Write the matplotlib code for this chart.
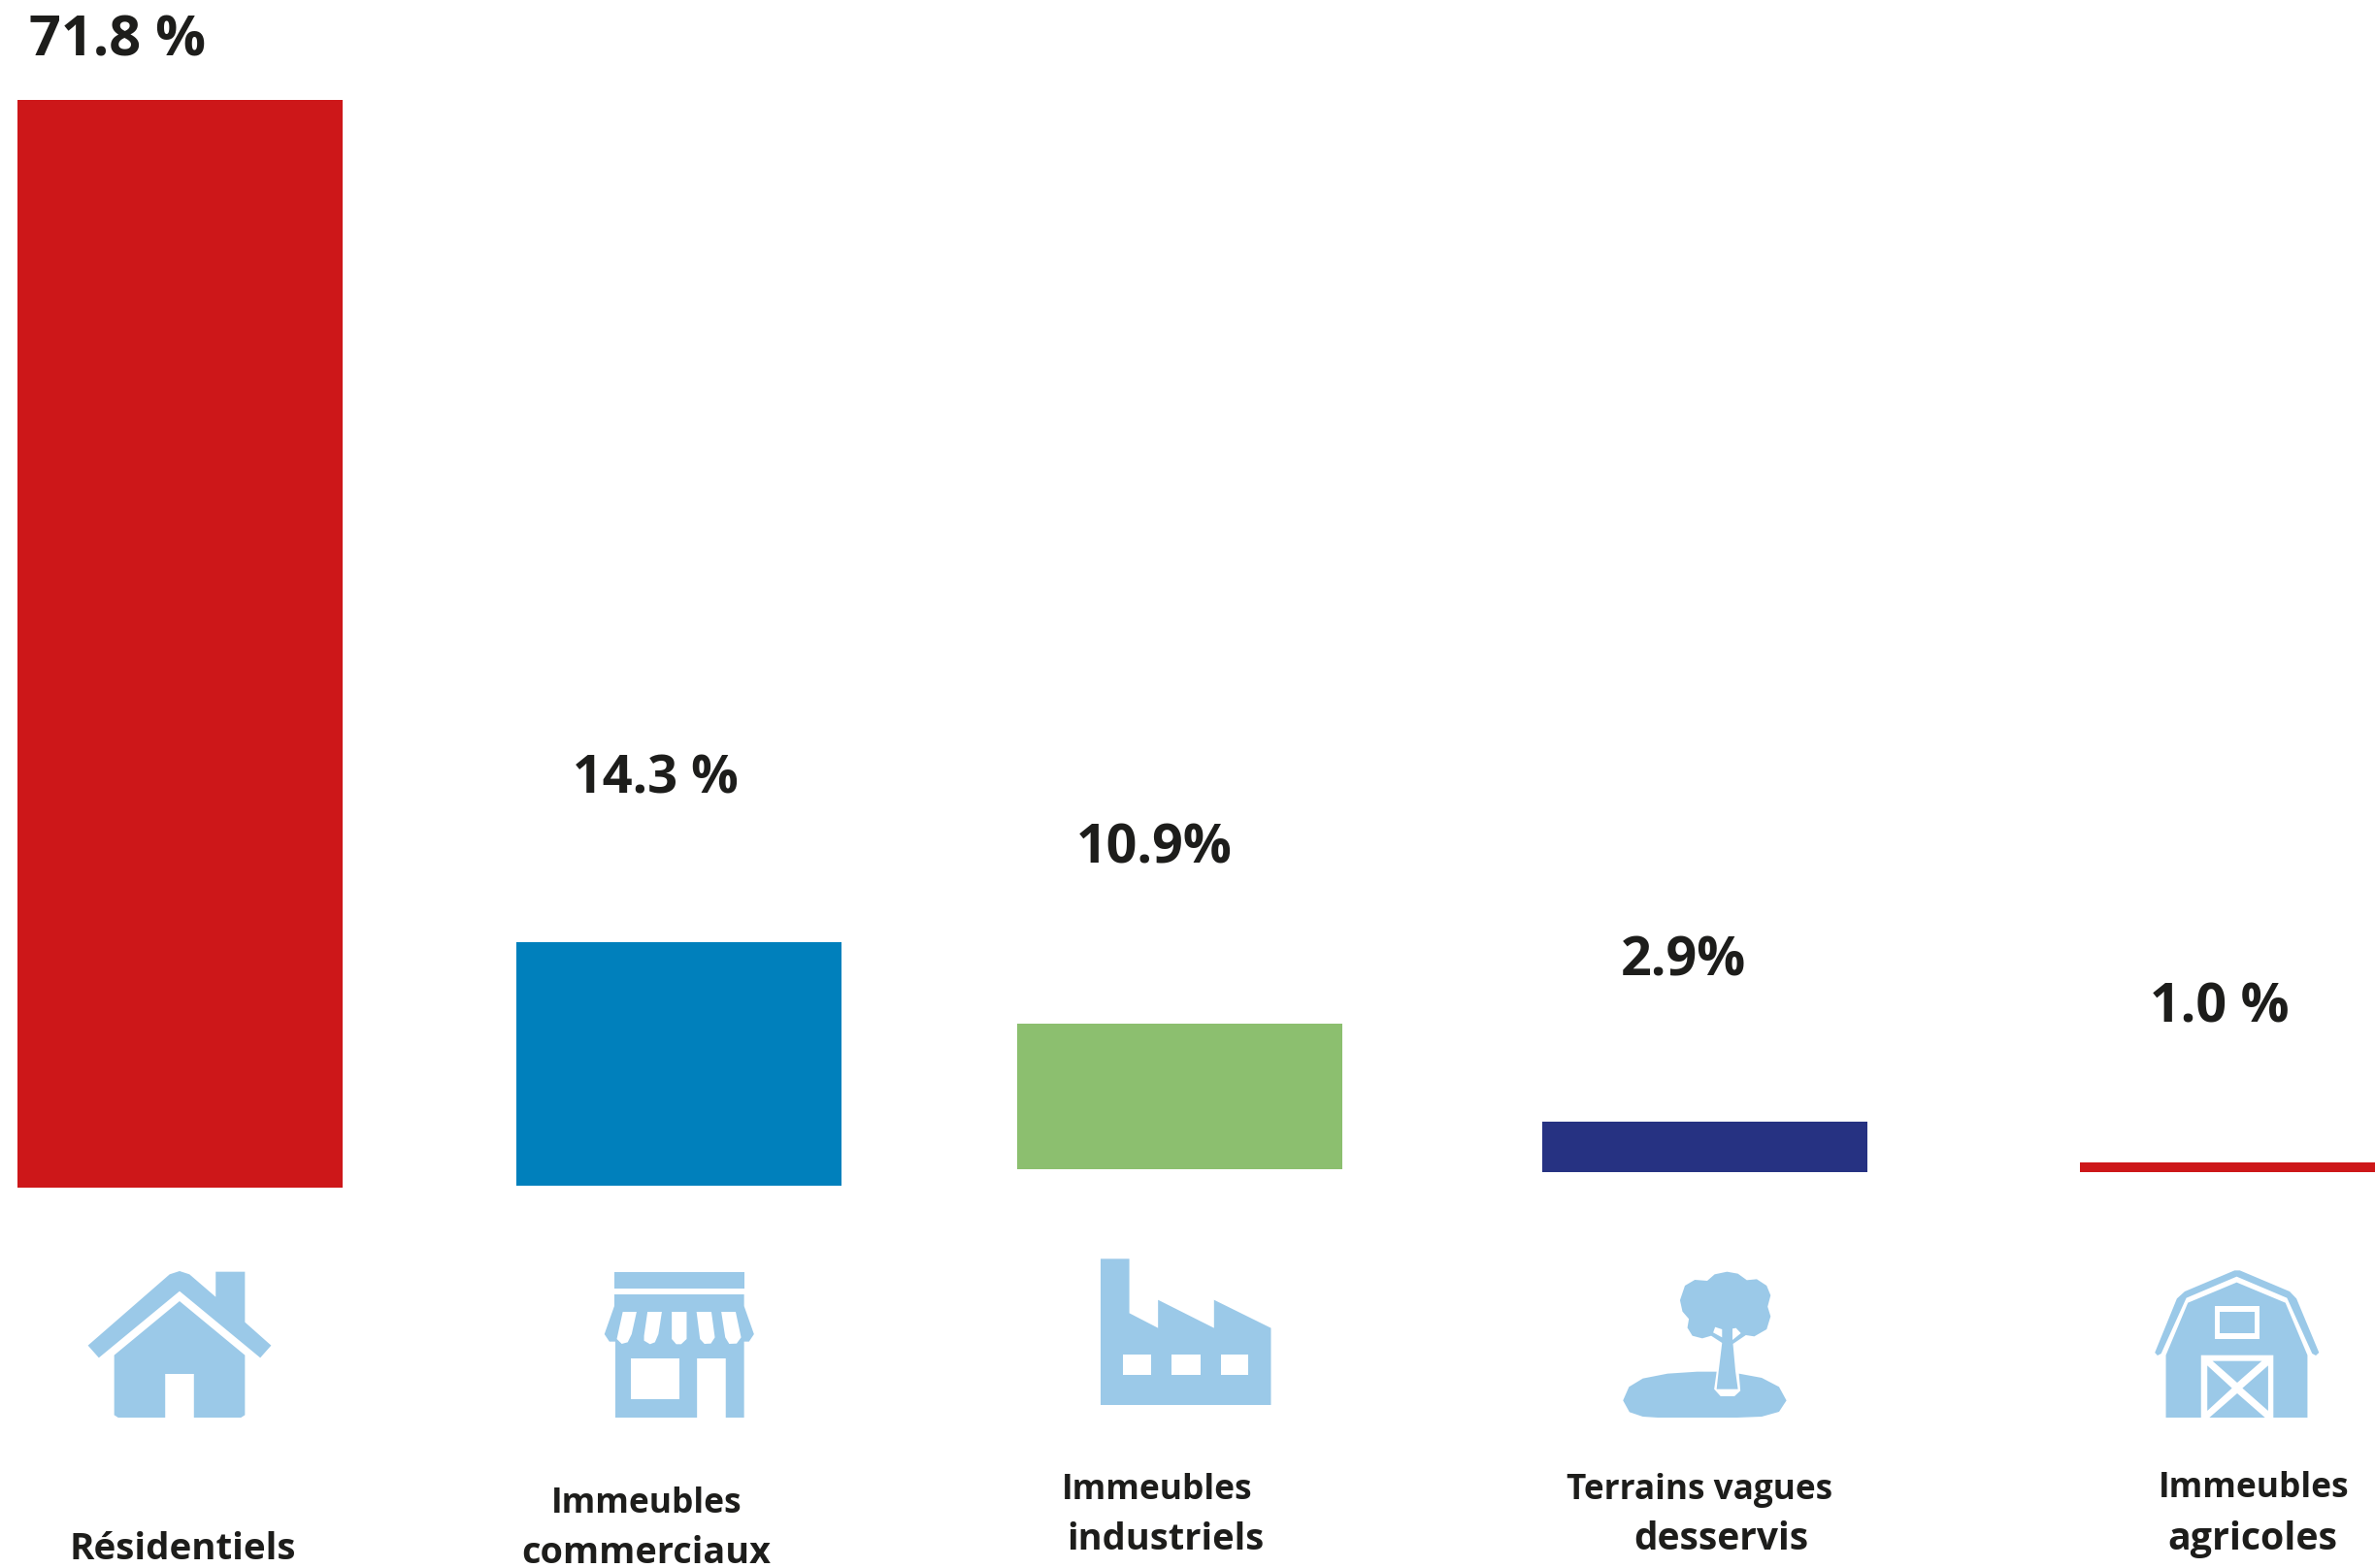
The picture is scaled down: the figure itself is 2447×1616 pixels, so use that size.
import matplotlib
matplotlib.use("Agg")
import matplotlib.pyplot as plt
from matplotlib.patches import Polygon

categories = ["Résidentiels", "Immeubles\ncommerciaux", "Immeubles\nindustriels",
              "Terrains vagues\ndesservis", "Immeubles\nagricoles"]
share_labels = ["71.8 %", "14.3 %", "10.9%", "2.9%", "1.0 %"]
# bar extents as drawn in the picture, in the units of the tallest bar (71.8)
bar_heights = [71.9, 16.1, 9.63, 3.34, 0.61]
bar_floors = [0.0, 0.1, 1.19, 1.0, 1.0]
bar_colors = ["#CD1719", "#0080BC", "#8CBF6F", "#263282", "#CD1719"]

W, H = 2447, 1616
ICON = "#9BC9E8"
INK = "#1D1D1B"
FONT = "Open Sans"

fig = plt.figure(figsize=(W / 100, H / 100), dpi=100, facecolor="white")

# bars
ax = fig.add_axes([0, 0, 1, 1])
unit = 15.58
ax.set_xlim(0, W)
ax.set_ylim(-(H - 1223.5) / unit, 1223.5 / unit)
ax.axis("off")
bar_x = [185.7, 699.2, 1215.2, 1756.5, 2310]
ax.bar(bar_x, bar_heights, width=335, bottom=bar_floors, color=bar_colors, linewidth=0)

# overlay in picture pixels
ov = fig.add_axes([0, 0, 1, 1])
ov.set_xlim(0, W)
ov.set_ylim(H, 0)
ov.axis("off")
ov.patch.set_alpha(0)


def poly(points, x0, sx, color=ICON):
    xy = [(x / sx + x0, y / 3 + 1270) for x, y in points]
    ov.add_patch(Polygon(xy, closed=True, facecolor=color, edgecolor="none", joinstyle="round"))


def box(x1, y1, x2, y2, x0, sx, color=ICON):
    poly([(x1, y1), (x2, y1), (x2, y2), (x1, y2)], x0, sx, color)


# house
X, S = 60, 1.96
poly([(60, 350), (225, 130), (245, 120), (265, 130), (318, 200), (318, 122), (377, 122), (377, 278),
      (430, 350), (408, 388), (245, 182), (82, 388)], X, S)
poly([(113, 380), (245, 213), (377, 380), (377, 565), (369, 573), (274, 573), (274, 438), (216, 438),
      (216, 573), (121, 573), (113, 565)], X, S)

# shop
box(1123, 122, 1385, 175, X, S)
poly([(1123, 192), (1385, 192), (1385, 228), (1405, 315), (1395, 338), (1385, 338), (1385, 573),
      (1348, 573), (1348, 390), (1290, 390), (1290, 573), (1125, 573), (1125, 338), (1113, 338),
      (1103, 315), (1123, 228)], X, S)
box(1156, 390, 1254, 515, X, S, "white")
for stripe in [
    [(1140, 246), (1168, 246), (1158, 315), (1150, 340), (1138, 345), (1128, 330)],
    [(1190, 246), (1219, 246), (1212, 315), (1205, 340), (1195, 346), (1183, 335), (1183, 320)],
    [(1239, 246), (1269, 246), (1269, 330), (1258, 346), (1248, 346), (1239, 330)],
    [(1289, 246), (1319, 246), (1326, 325), (1318, 344), (1305, 345), (1296, 330)],
    [(1339, 246), (1368, 246), (1379, 325), (1370, 344), (1355, 345), (1347, 325)],
]:
    poly(stripe, X, S, "white")

# factory
X = 1060
poly([(145, 82), (203, 82), (203, 250), (261, 296), (261, 209), (374, 296), (374, 209), (489, 296),
      (489, 534), (145, 534)], X, S)
for win in [(190, 247), (288, 347), (388, 443)]:
    box(win[0], 378, win[1], 440, X, S, "white")

# tree
poly([(1410, 122), (1385, 130), (1370, 150), (1345, 147), (1325, 165), (1315, 210), (1320, 245), (1333, 268),
      (1330, 295), (1340, 320), (1360, 328), (1378, 320), (1400, 342), (1393, 430), (1389, 485),
      (1432, 485), (1427, 430), (1422, 345), (1448, 318), (1465, 322), (1490, 300), (1498, 260),
      (1492, 230), (1498, 195), (1490, 165), (1470, 145), (1450, 148), (1432, 128)], X, S)
poly([(1386, 293), (1400, 300), (1400, 325), (1382, 310)], X, S, "white")
poly([(1421, 298), (1428, 296), (1438, 312), (1421, 333)], X, S, "white")
poly([(1200, 520), (1212, 478), (1240, 452), (1290, 437), (1350, 431), (1389, 431), (1384, 485),
      (1397, 507), (1425, 507), (1437, 490), (1434, 437), (1480, 450), (1515, 478), (1530, 520),
      (1515, 555), (1480, 570), (1430, 573), (1270, 573), (1240, 570), (1213, 556)], X, S)

# barn
X, S = 1600, 1.851
poly([(1148, 372), (1190, 205), (1205, 183), (1300, 118), (1310, 118), (1405, 183), (1418, 205),
      (1461, 372), (1455, 381), (1448, 375), (1400, 203), (1304, 137), (1208, 203), (1160, 375),
      (1153, 381)], X, S)
poly([(1169, 380), (1211, 218), (1304, 155), (1397, 218), (1439, 380), (1439, 573), (1374, 573),
      (1374, 380), (1236, 380), (1236, 573), (1169, 573)], X, S)
box(1262, 229, 1348, 329, X, S, "white")
box(1272, 245, 1338, 312, X, S)
poly([(1258, 398), (1352, 398), (1305, 465)], X, S)
poly([(1248, 412), (1295, 482), (1248, 552)], X, S)
poly([(1364, 412), (1364, 552), (1315, 482)], X, S)
poly([(1305, 498), (1358, 573), (1252, 573)], X, S)

# value labels: left edge, baseline in pixels, font size
value_pos = [(30, 58, 41.5), (590, 817, 39), (1109, 889, 40), (1670, 1005, 40), (2215, 1053, 40)]
for s, (x, y, size) in zip(share_labels, value_pos):
    ov.text(x, y, s, fontsize=size, fontweight="bold", family=FONT, color=INK, ha="left", va="baseline")

# category labels: centre, baseline in pixels and font size of each line
cat_pos = [
    [(188, 1607, 27.7)],
    [(666, 1559, 25.5), (666, 1611, 27.2)],
    [(1192, 1545, 25.5), (1201, 1597, 27.4)],
    [(1751, 1545, 25.3), (1773, 1597, 28)],
    [(2322, 1543, 25.5), (2321, 1597, 28.3)],
]
for label, places in zip(categories, cat_pos):
    for line, (x, y, size) in zip(label.split("\n"), places):
        ov.text(x, y, line, fontsize=size, fontweight="bold", family=FONT, color=INK, ha="center", va="baseline")

fig.savefig("out.png", dpi=100, facecolor="white")
